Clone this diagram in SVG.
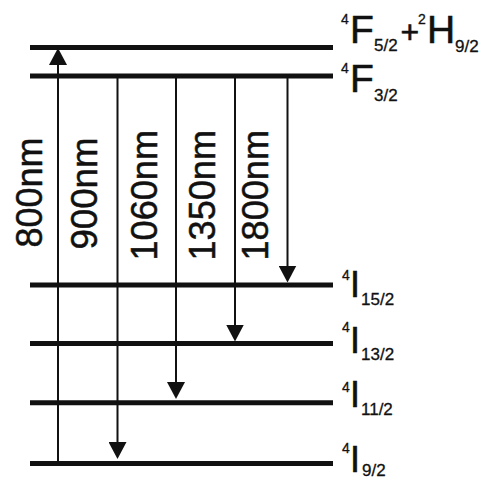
<svg xmlns="http://www.w3.org/2000/svg" width="485" height="480" viewBox="0 0 485 480">
<style>
.lvl{stroke:#111;stroke-width:5;fill:none}
.tr{stroke:#111;stroke-width:2;fill:none;marker-end:url(#ah)}
.wl{font-family:"Liberation Sans",Arial,sans-serif;font-size:37px;fill:#111;stroke:#111;stroke-width:0.5}
.lb{font-family:"Liberation Sans",Arial,sans-serif;fill:#111;stroke:#111;stroke-width:0.6}
.big{font-size:39px}
.bi{font-size:36px}
.sup{font-size:14px;stroke-width:0.3}
.sub{font-size:17px;stroke-width:0.3}
</style>
<defs>
<marker id="ah" viewBox="0 0 17 18" refX="11" refY="9" markerWidth="17" markerHeight="18" markerUnits="userSpaceOnUse" orient="auto">
<path d="M0,0 L17,9 L0,18 z" fill="#111"/>
</marker>
</defs>
<rect width="485" height="480" fill="#fff"/>
<g id="level-F52H92">
<line class="lvl" x1="30" y1="47.5" x2="333" y2="47.5"/>
<text class="lb"><tspan class="sup" x="341" y="24">4</tspan><tspan class="big" x="350" y="43">F</tspan><tspan class="sub" x="374" y="51">5/2</tspan><tspan x="400.5" y="43" font-size="32">+</tspan><tspan class="sup" x="418" y="24">2</tspan><tspan class="big" x="427" y="43">H</tspan><tspan class="sub" x="455" y="52">9/2</tspan></text>
</g>
<g id="level-F32">
<line class="lvl" x1="30" y1="76" x2="333" y2="76"/>
<text class="lb"><tspan class="sup" x="341" y="73">4</tspan><tspan class="big" x="350" y="92">F</tspan><tspan class="sub" x="374" y="101">3/2</tspan></text>
</g>
<g id="level-I152">
<line class="lvl" x1="30" y1="285" x2="333" y2="285"/>
<text class="lb"><tspan class="sup" x="342" y="280">4</tspan><tspan class="bi" x="350" y="297">I</tspan><tspan class="sub" x="361" y="305">15/2</tspan></text>
</g>
<g id="level-I132">
<line class="lvl" x1="30" y1="343.5" x2="333" y2="343.5"/>
<text class="lb"><tspan class="sup" x="342" y="332">4</tspan><tspan class="bi" x="350" y="353">I</tspan><tspan class="sub" x="361" y="360">13/2</tspan></text>
</g>
<g id="level-I112">
<line class="lvl" x1="30" y1="402.7" x2="333" y2="402.7"/>
<text class="lb"><tspan class="sup" x="342" y="392">4</tspan><tspan class="bi" x="350" y="407">I</tspan><tspan class="sub" x="361" y="415">11/2</tspan></text>
</g>
<g id="level-I92">
<line class="lvl" x1="30" y1="463.5" x2="333" y2="463.5"/>
<text class="lb"><tspan class="sup" x="342" y="453">4</tspan><tspan class="bi" x="350" y="472">I</tspan><tspan class="sub" x="362" y="476">9/2</tspan></text>
</g>
<g id="connectors">
<line class="tr" x1="58" y1="463.5" x2="58" y2="54"/>
<line class="tr" x1="117.5" y1="76" x2="117.5" y2="453"/>
<line class="tr" x1="176" y1="76" x2="176" y2="393"/>
<line class="tr" x1="235" y1="76" x2="235" y2="335.5"/>
<line class="tr" x1="287.5" y1="76" x2="287.5" y2="276.5"/>
</g>
<g id="labels">
<text class="wl" transform="translate(41.5,247.5) rotate(-90)" textLength="110" lengthAdjust="spacingAndGlyphs">800nm</text>
<text class="wl" transform="translate(96.5,249.5) rotate(-90)" textLength="112" lengthAdjust="spacingAndGlyphs">900nm</text>
<text class="wl" transform="translate(157,260.5) rotate(-90)" textLength="130.5" lengthAdjust="spacingAndGlyphs">1060nm</text>
<text class="wl" transform="translate(215,260.5) rotate(-90)" textLength="130.5" lengthAdjust="spacingAndGlyphs">1350nm</text>
<text class="wl" transform="translate(268,260.5) rotate(-90)" textLength="130.5" lengthAdjust="spacingAndGlyphs">1800nm</text>
</g>
</svg>
